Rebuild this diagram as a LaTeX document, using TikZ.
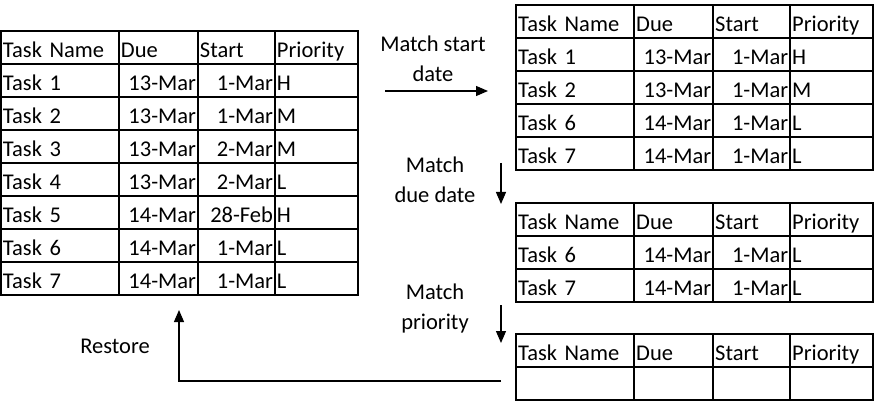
\documentclass[tikz,border=0pt]{standalone}
\usepackage{fontspec}
\setmainfont{Carlito}
\usetikzlibrary{matrix, positioning, arrows.meta}
\tikzset{
  tasktab/.style={matrix of nodes, nodes in empty cells, inner sep=0pt,
    anchor=north west, row sep=-1.6pt, column sep=-1.6pt,
    nodes={draw, line width=1.6pt, inner xsep=2pt, inner ysep=0pt,
      text height=26.5pt, text depth=6.5pt, align=left},
    column 1/.style={nodes={text width=114pt}},
    column 2/.style={nodes={text width=75pt, align=right}},
    column 3/.style={nodes={text width=73pt, align=right}},
    column 4/.style={nodes={text width=79pt}},
    row 1/.style={nodes={align=left}}},
  flow/.style={-{Triangle[length=12pt,width=10pt]}, line width=1.2pt},
  steplabel/.style={align=center, inner sep=0pt, anchor=north}
}
\begin{document}
\begin{tikzpicture}[x=1pt, y=-1pt, font=\fontsize{22.5}{30}\selectfont]
        \useasboundingbox (0,0) rectangle (876,401);
        % tabella di partenza
        \matrix[tasktab] (alltasks) at (0,30) {
          Task Name & Due & Start & Priority \\
          Task 1 & 13-Mar & 1-Mar & H \\
          Task 2 & 13-Mar & 1-Mar & M \\
          Task 3 & 13-Mar & 2-Mar & M \\
          Task 4 & 13-Mar & 2-Mar & L \\
          Task 5 & 14-Mar & 28-Feb & H \\
          Task 6 & 14-Mar & 1-Mar & L \\
          Task 7 & 14-Mar & 1-Mar & L \\
        };
        % stessa data di inizio
        \matrix[tasktab] (startmatch) at (515.2,4.2) {
          Task Name & Due & Start & Priority \\
          Task 1 & 13-Mar & 1-Mar & H \\
          Task 2 & 13-Mar & 1-Mar & M \\
          Task 6 & 14-Mar & 1-Mar & L \\
          Task 7 & 14-Mar & 1-Mar & L \\
        };
        % stessa scadenza
        \matrix[tasktab] (duematch) at (515.2,202.2) {
          Task Name & Due & Start & Priority \\
          Task 6 & 14-Mar & 1-Mar & L \\
          Task 7 & 14-Mar & 1-Mar & L \\
        };
        % stessa priorita
        \matrix[tasktab] (prioritymatch) at (515.2,333.2) {
          Task Name & Due & Start & Priority \\
          & & & \\
        };
        % etichette
        \node[steplabel] (startlbl) at (433,36) {Match start\\date};
        \node[steplabel] (duelbl) at (435,157) {Match\\due date};
        \node[steplabel] (prioritylbl) at (435,284) {Match\\priority};
        \node[anchor=base, inner sep=0pt] (restorelbl) at (115,353) {Restore};
        % estremi delle frecce
        \coordinate (startfrom) at (385,91);
        \coordinate (startto) at (488,91);
        \coordinate (duefrom) at (501,163);
        \coordinate (dueto) at (501,204);
        \coordinate (priorityfrom) at (501,305);
        \coordinate (priorityto) at (501,343);
        \coordinate (restorefrom) at (501,381);
        \coordinate (restoreto) at (179,310);
        % frecce
        \draw[flow] (startfrom) -- (startto);
        \draw[flow] (duefrom) -- (dueto);
        \draw[flow] (priorityfrom) -- (priorityto);
        \draw[flow] (restorefrom) -| (restoreto);
\end{tikzpicture}
\end{document}
